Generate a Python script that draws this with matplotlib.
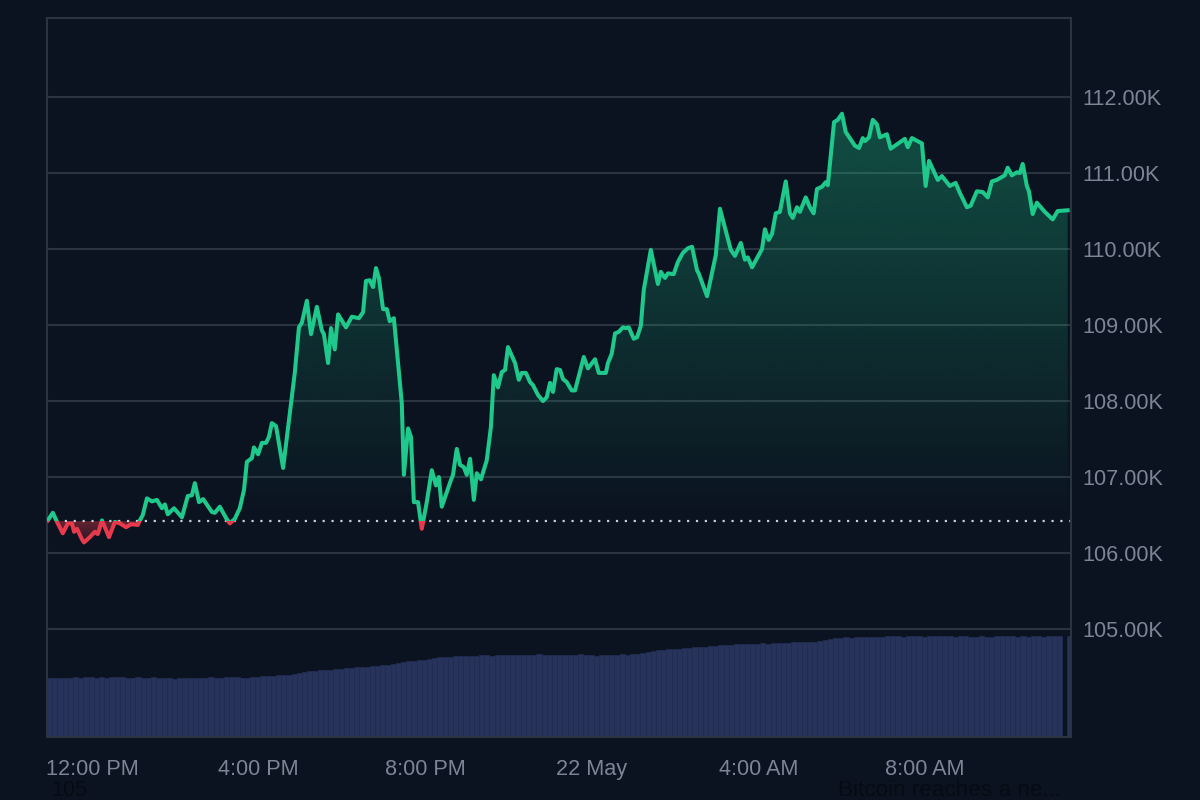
import matplotlib

matplotlib.use("Agg")
import matplotlib.pyplot as plt
import numpy as np
from matplotlib.colors import to_rgb
from matplotlib.patches import PathPatch, Rectangle

BG = "#0b1320"
GRID = "#2a3441"
TEXT = "#7c8596"
GREEN = "#1fc98c"
RED = "#e83a4c"
BAR = "#28335c"

# hours after 12:00 PM on 21 May
hours = [
    -1.06, -0.94, -0.84, -0.70, -0.58, -0.48, -0.43, -0.36, -0.24, -0.19, -0.05, 0.07, 0.14, 0.24, 0.31, 0.41,
    0.55, 0.67, 0.82, 0.94, 1.10, 1.15, 1.22, 1.32, 1.44, 1.56, 1.68, 1.75, 1.82, 1.97, 2.16, 2.30, 2.40, 2.47,
    2.57, 2.67, 2.88, 2.95, 3.07, 3.22, 3.31, 3.43, 3.55, 3.65, 3.72, 3.84, 3.89, 3.99, 4.08, 4.18, 4.25, 4.32,
    4.42, 4.59, 4.87, 4.97, 5.04, 5.16, 5.26, 5.40, 5.52, 5.57, 5.67, 5.74, 5.83, 5.91, 6.10, 6.24, 6.41, 6.51,
    6.58, 6.67, 6.75, 6.82, 6.89, 6.99, 7.08, 7.15, 7.25, 7.35, 7.44, 7.49, 7.59, 7.66, 7.73, 7.83, 7.92, 8.04,
    8.16, 8.26, 8.33, 8.40, 8.62, 8.67, 8.76, 8.84, 8.93, 9.00, 9.08, 9.17, 9.24, 9.34, 9.48, 9.58, 9.65, 9.75,
    9.84, 9.92, 9.99, 10.16, 10.25, 10.32, 10.42, 10.52, 10.59, 10.71, 10.83, 10.92, 11.00, 11.07, 11.16, 11.24,
    11.31, 11.40, 11.52, 11.60, 11.81, 11.91, 12.08, 12.17, 12.34, 12.39, 12.48, 12.56, 12.65, 12.75, 12.82, 12.89,
    13.01, 13.09, 13.18, 13.25, 13.42, 13.59, 13.66, 13.76, 13.83, 13.97, 14.07, 14.19, 14.31, 14.41, 14.53, 14.57,
    14.77, 14.98, 15.08, 15.20, 15.34, 15.44, 15.58, 15.68, 15.75, 15.85, 16.09, 16.16, 16.25, 16.33, 16.42, 16.52,
    16.66, 16.76, 16.83, 16.93, 17.00, 17.14, 17.24, 17.33, 17.41, 17.53, 17.62, 17.67, 17.82, 17.91, 18.01, 18.10,
    18.15, 18.32, 18.42, 18.51, 18.56, 18.66, 18.75, 18.85, 18.92, 19.09, 19.18, 19.52, 19.59, 19.69, 19.93, 20.02,
    20.10, 20.31, 20.41, 20.60, 20.74, 20.84, 21.01, 21.10, 21.25, 21.39, 21.51, 21.61, 21.73, 21.92, 21.99, 22.09,
    22.21, 22.28, 22.35, 22.45, 22.50, 22.59, 22.69, 22.88, 23.07, 23.19, 23.43,
]
# price in thousands of USD
prices = [
    106.43, 106.53, 106.41, 106.26, 106.39, 106.39, 106.28, 106.32, 106.18, 106.14, 106.21, 106.28, 106.25, 106.43, 106.34, 106.21,
    106.41, 106.39, 106.34, 106.38, 106.37, 106.43, 106.50, 106.72, 106.68, 106.70, 106.59, 106.64, 106.51, 106.59, 106.47, 106.75, 106.76, 106.92,
    106.67, 106.71, 106.54, 106.53, 106.61, 106.46, 106.39, 106.45, 106.59, 106.83, 107.20, 107.25, 107.39, 107.30, 107.45, 107.45, 107.53, 107.71,
    107.67, 107.12, 108.37, 108.97, 109.03, 109.32, 108.88, 109.24, 108.93, 108.88, 108.50, 108.96, 108.68, 109.14, 108.97, 109.11, 109.09, 109.17,
    109.58, 109.59, 109.50, 109.75, 109.62, 109.21, 109.21, 109.05, 109.09, 108.50, 107.97, 107.03, 107.64, 107.53, 106.67, 106.67, 106.32, 106.67,
    107.09, 106.89, 107.00, 106.61, 106.96, 107.03, 107.37, 107.16, 107.13, 107.03, 107.24, 106.70, 107.05, 106.97, 107.22, 107.66, 108.34, 108.18,
    108.38, 108.41, 108.71, 108.50, 108.28, 108.37, 108.37, 108.25, 108.21, 108.08, 108.00, 108.05, 108.24, 108.12, 108.42, 108.41,
    108.29, 108.25, 108.14, 108.14, 108.58, 108.43, 108.55, 108.37, 108.37, 108.50, 108.62, 108.89, 108.91, 108.97, 108.96, 108.97,
    108.82, 108.84, 108.99, 109.46, 109.99, 109.54, 109.70, 109.62, 109.68, 109.67, 109.83, 109.95, 110.01, 110.03, 109.72, 109.68,
    109.38, 109.92, 110.53, 110.28, 109.99, 109.91, 110.08, 109.86, 109.89, 109.76, 110.00, 110.26, 110.12, 110.20, 110.47, 110.49,
    110.89, 110.47, 110.41, 110.55, 110.49, 110.68, 110.55, 110.47, 110.79, 110.82, 110.88, 110.84, 111.67, 111.70, 111.78, 111.54,
    111.50, 111.36, 111.33, 111.46, 111.42, 111.47, 111.70, 111.64, 111.47, 111.51, 111.32, 111.45, 111.34, 111.46, 111.39, 110.83,
    111.16, 110.91, 110.96, 110.83, 110.87, 110.74, 110.55, 110.57, 110.76, 110.75, 110.68, 110.89, 110.91, 110.97, 111.07, 110.97,
    111.01, 111.00, 111.12, 110.83, 110.76, 110.46, 110.61, 110.49, 110.39, 110.50, 110.51,
]
baseline_price = 106.42

# volume bars, one per 7.5 minutes, unit is arbitrary
volumes = [
    59, 59, 59, 59, 59, 60, 59, 60, 60, 59, 60, 59, 60, 60, 60, 59, 59, 60, 59, 59,
    60, 59, 59, 59, 58, 59, 59, 59, 59, 59, 59, 60, 59, 59, 60, 60, 60, 59, 59, 60,
    60, 61, 61, 61, 62, 62, 62, 63, 64, 65, 66, 66, 67, 67, 67, 68, 68, 69, 69, 70,
    70, 70, 71, 71, 72, 72, 73, 74, 75, 76, 76, 77, 77, 78, 79, 80, 80, 80, 81, 81,
    81, 81, 81, 82, 82, 81, 82, 82, 82, 82, 82, 82, 82, 82, 83, 82, 82, 82, 82, 82,
    82, 82, 83, 82, 82, 81, 82, 82, 82, 82, 83, 82, 83, 83, 84, 85, 86, 87, 87, 88,
    88, 88, 89, 89, 90, 90, 90, 91, 91, 92, 92, 92, 93, 93, 93, 93, 93, 94, 93, 94,
    94, 94, 94, 95, 95, 95, 95, 95, 96, 97, 98, 99, 99, 100, 99, 100, 100, 100, 100, 100,
    100, 101, 101, 101, 100, 101, 101, 101, 100, 101, 101, 101, 101, 101, 100, 101, 101, 100, 100, 101,
    100, 100, 101, 101, 101, 101, 100, 101, 100, 101, 101, 100, 101, 101, 101, 0, 101,
]

y_ticks = [105, 106, 107, 108, 109, 110, 111, 112]
y_labels = ["105.00K", "106.00K", "107.00K", "108.00K", "109.00K", "110.00K", "111.00K", "112.00K"]
x_ticks = [0, 4, 8, 12, 16, 20]
x_labels = ["12:00 PM", "4:00 PM", "8:00 PM", "22 May", "4:00 AM", "8:00 AM"]

plt.rcParams["font.family"] = ["Liberation Sans", "DejaVu Sans"]

X_MIN, X_MAX = -1.08, 23.51
Y_MIN, Y_MAX = 103.58, 113.04
BAR_STEP = 0.125


def add_gradient(ax, polygon, color, alpha_top, alpha_bottom, y_top, y_bottom):
    rgb = to_rgb(color)
    grad = np.zeros((256, 1, 4))
    grad[:, :, 0], grad[:, :, 1], grad[:, :, 2] = rgb
    grad[:, 0, 3] = np.linspace(alpha_top, alpha_bottom, 256)
    im = ax.imshow(grad, extent=(X_MIN, X_MAX, y_bottom, y_top), aspect="auto", origin="upper", zorder=2)
    patch = PathPatch(polygon.get_paths()[0], transform=ax.transData, facecolor="none", edgecolor="none")
    ax.add_patch(patch)
    im.set_clip_path(patch)
    polygon.remove()


fig = plt.figure(figsize=(12, 8), dpi=100, facecolor=BG)
ax = fig.add_axes([47 / 1200, 1 - 737 / 800, (1071 - 47) / 1200, (737 - 18) / 800], facecolor="#0a121f")

# volume sits on its own scale in the lower part of the panel
ax_vol = ax.twinx()
ax_vol.set_ylim(0, 719)
ax_vol.axis("off")
bar_x = X_MIN + BAR_STEP / 2 + BAR_STEP * np.arange(len(volumes))
ax_vol.bar(bar_x, volumes, width=BAR_STEP, color=BAR, edgecolor="#232d52", linewidth=0.5)
ax.set_zorder(ax_vol.get_zorder() + 1)
ax.patch.set_visible(False)
ax_vol.patch.set_visible(True)
ax_vol.patch.set_facecolor("#0a121f")

ax.set_yticks(y_ticks, y_labels)
ax.set_xticks(x_ticks, x_labels)
ax.grid(axis="y", color=GRID, linewidth=1.5, zorder=0)
ax.set_axisbelow(True)
ax.yaxis.tick_right()
ax.tick_params(axis="y", length=0, pad=8, labelsize=15.6, labelcolor=TEXT)
ax.tick_params(axis="x", length=0, pad=16, labelsize=15.6, labelcolor=TEXT)
for side in ["top", "left", "right", "bottom"]:
    ax.spines[side].set_color(GRID)
    ax.spines[side].set_linewidth(1.5)

hours_arr = np.array(hours)
prices_arr = np.array(prices)

above = ax.fill_between(hours_arr, baseline_price, np.maximum(prices_arr, baseline_price), linewidth=0)
add_gradient(ax, above, GREEN, 0.33, 0.0, 111.78, baseline_price)
below = ax.fill_between(hours_arr, baseline_price, np.minimum(prices_arr, baseline_price), linewidth=0)
add_gradient(ax, below, RED, 0.42, 0.1, baseline_price, 106.1)

ax.axhline(baseline_price, color="#c9ced6", linewidth=1.6, linestyle=(0, (1, 3)), zorder=2.5)

clip_up = Rectangle((X_MIN, baseline_price), X_MAX - X_MIN, Y_MAX - baseline_price, transform=ax.transData)
clip_down = Rectangle((X_MIN, Y_MIN), X_MAX - X_MIN, baseline_price - Y_MIN, transform=ax.transData)
line_up, = ax.plot(hours, prices, color=GREEN, linewidth=2.9, solid_joinstyle="round", zorder=3)
line_down, = ax.plot(hours, prices, color=RED, linewidth=2.9, solid_joinstyle="round", zorder=3)
line_up.set_clip_path(clip_up)
line_down.set_clip_path(clip_down)

ax.set_xlim(X_MIN, X_MAX)
ax.set_ylim(Y_MIN, Y_MAX)

# dark page text that shows through below the chart
fig.text(51 / 1200, 1 - 790 / 800, "105", color="#070b13", fontsize=15.6, va="center", ha="left")
fig.text(838 / 1200, 1 - 790 / 800, "Bitcoin reaches a ne...", color="#070b13", fontsize=16.2, va="center", ha="left")

fig.savefig("out.png", dpi=100, facecolor=BG)
plt.close(fig)
